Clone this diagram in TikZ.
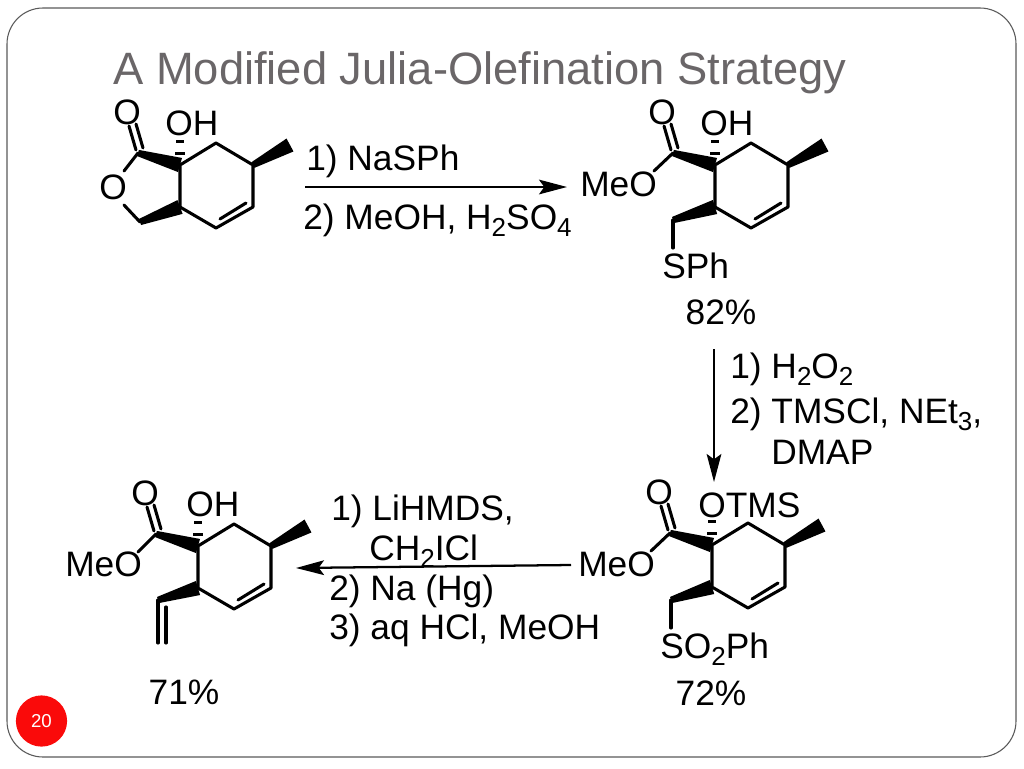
\documentclass[tikz,border=0pt]{standalone}
\usepackage{fontspec}
\setmainfont{Liberation Sans}
\usetikzlibrary{calc,arrows.meta}
\definecolor{titlegray}{HTML}{6A6668}
\definecolor{framegray}{HTML}{5A5A5A}
\definecolor{badgered}{HTML}{FA0A0A}
\newcommand{\wedgebond}[3]{\fill ($(#1)!2.4pt!90:(#2)$) -- ($(#2)!#3!-90:(#1)$) -- ($(#2)!#3!90:(#1)$) -- ($(#1)!2.4pt!-90:(#2)$) -- cycle;}
\newcommand{\chemsub}[1]{\raisebox{-5.5pt}{\fontsize{19.5}{20}\selectfont #1}}
\tikzset{
  pics/core/.style={code={
    \coordinate (-cq) at (0, 0);
    \coordinate (-top) at (36, -22);
    \coordinate (-cme) at (73, 0);
    \coordinate (-alkA) at (73, 42);
    \coordinate (-alkB) at (36, 63);
    \coordinate (-ch) at (0, 42);
    \coordinate (-me) at (110, -20);
    \coordinate (-innerA) at (66, 38);
    \coordinate (-innerB) at (40, 54);
    \coordinate (-co) at (-42, -12);
    \coordinate (-oA) at (-44, -15);
    \coordinate (-oB) at (-51, -39);
    \coordinate (-oC) at (-37, -17);
    \coordinate (-oD) at (-44, -41);
    \node[atom] (-oxo) at (-53, -53) {O};
    \draw[bond] (-cq) -- (-top) -- (-cme) -- (-alkA) -- (-alkB) -- (-ch) -- cycle;
    \draw[bond] (-innerA) -- (-innerB);
    \draw[bond] (-oA) -- (-oB);
    \draw[bond] (-oC) -- (-oD);
    \wedgebond{-cme}{-me}{5.5pt}
    \wedgebond{-co}{-cq}{5.5pt}
    \fill (-5, -13) rectangle (5, -10);
    \fill (-4, -25) rectangle (4, -22);
  }}
}
\begin{document}
\begin{tikzpicture}[x=0.75pt, y=-0.75pt]
    \tikzstyle{label}=[anchor=base west, inner sep=0pt, font=\fontsize{26.5}{30}\selectfont]
    \tikzstyle{atom}=[inner sep=0pt, font=\fontsize{26.5}{30}\selectfont]
    \tikzstyle{bond}=[line width=2.3pt, line join=round, line cap=round]
    \tikzstyle{transition}=[-{Stealth[length=21pt, width=11pt, inset=4pt]}, line width=1.7pt]
    \useasboundingbox (0, 0) rectangle (1024, 768);
    \fill[white] (0, 0) rectangle (1024, 768);
    \draw[framegray, line width=0.8pt, rounded corners=27pt] (7, 8) rectangle (1016, 757);
    \node[anchor=base west, inner sep=0pt, text=titlegray, font=\fontsize{34}{40}\selectfont] (title) at (113, 84) {A Modified Julia-Olefination Strategy};
    \node[circle, fill=badgered, minimum size=38.4pt, inner sep=0pt, text=white, font=\fontsize{14}{16}\selectfont] (badge) at (41.5, 721) {20};

    % lactone
    \pic (lac) at (180, 165) {core};
    \node[label] (lac-oh) at (165, 135) {OH};
    \node[atom] (lac-ring) at (113, 187) {O};
    \coordinate (lac-ch2) at (140, 222);
    \draw[bond] (lac-co) -- (124, 171);
    \draw[bond] (124, 205) -- (lac-ch2);
    \wedgebond{lac-ch2}{lac-ch}{5.5pt}

    % sulfide
    \pic (sul) at (715, 165) {core};
    \node[label] (sul-oh) at (700, 135) {OH};
    \node[label] (sul-meo) at (580, 196) {MeO};
    \node[label] (sul-sph) at (662, 278) {SPh};
    \coordinate (sul-ch2) at (673, 220);
    \draw[bond] (sul-co) -- (654, 171);
    \wedgebond{sul-ch2}{sul-ch}{5.5pt}
    \draw[bond] (sul-ch2) -- (673, 248);
    \node[atom] (sul-yield) at (721, 312) {82\%};

    % sulfone
    \pic (sfn) at (712, 545) {core};
    \node[label] (sfn-otms) at (698, 517) {OTMS};
    \node[label] (sfn-meo) at (578, 576) {MeO};
    \node[label] (sfn-so) at (660, 658) {SO\chemsub{2}Ph};
    \coordinate (sfn-ch2) at (671, 600);
    \draw[bond] (sfn-co) -- (651, 551);
    \wedgebond{sfn-ch2}{sfn-ch}{5.5pt}
    \draw[bond] (sfn-ch2) -- (671, 628);
    \node[atom] (sfn-yield) at (711, 693) {72\%};

    % alkene
    \pic (alk) at (198, 546) {core};
    \node[label] (alk-oh) at (186, 516) {OH};
    \node[label] (alk-meo) at (65, 576) {MeO};
    \coordinate (alk-ch2) at (158, 600);
    \draw[bond] (alk-co) -- (138, 552);
    \wedgebond{alk-ch2}{alk-ch}{5.5pt}
    \coordinate (alk-endA) at (158, 643);
    \coordinate (alk-innerA) at (166, 607);
    \coordinate (alk-endB) at (166, 643);
    \draw[bond] (alk-ch2) -- (alk-endA);
    \draw[bond] (alk-innerA) -- (alk-endB);
    \node[atom] (alk-yield) at (184, 692) {71\%};

    % reactions
    \coordinate (rxnA-start) at (305, 187);
    \coordinate (rxnA-end) at (567, 187);
    \draw[transition] (rxnA-start) -- (rxnA-end);
    \node[label] (rxnA-one) at (306, 170) {1) NaSPh};
    \node[label] (rxnA-two) at (303, 229) {2) MeOH, H\chemsub{2}SO\chemsub{4}};

    \coordinate (rxnB-start) at (714, 349);
    \coordinate (rxnB-end) at (714, 482);
    \draw[transition] (rxnB-start) -- (rxnB-end);
    \node[label] (rxnB-one) at (730, 378) {1) H\chemsub{2}O\chemsub{2}};
    \node[label] (rxnB-two) at (730, 423) {2) TMSCl, NEt\chemsub{3},};
    \node[label] (rxnB-three) at (771, 464) {DMAP};

    \coordinate (rxnC-start) at (571, 565);
    \coordinate (rxnC-end) at (296, 568);
    \draw[transition] (rxnC-start) -- (rxnC-end);
    \node[label] (rxnC-one) at (331, 520) {1) LiHMDS,};
    \node[label] (rxnC-two) at (369, 560) {CH\chemsub{2}ICl};
    \node[label] (rxnC-three) at (329, 600) {2) Na (Hg)};
    \node[label] (rxnC-four) at (329, 639) {3) aq HCl, MeOH};
\end{tikzpicture}
\end{document}
